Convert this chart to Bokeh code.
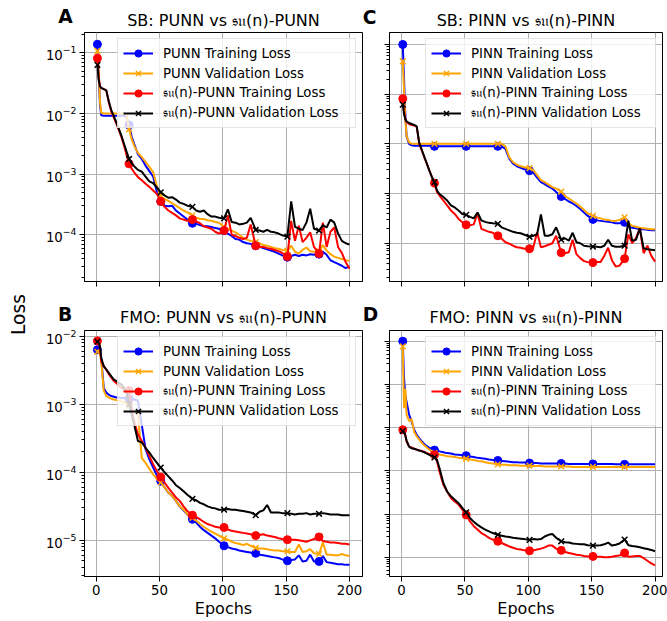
import math
import numpy as np
from bokeh.plotting import figure
from bokeh.models import (Range1d, FixedTicker, Label, Legend, LegendItem,
                          ColumnDataSource, CustomJSTickFormatter)
from bokeh.layouts import row, column
from bokeh.embed import file_html
from bokeh.resources import INLINE

# ---------------------------------------------------------------- data
EPOCHS = [1, 2, 3, 4, 6, 8, 10, 12,
          14, 16, 18, 20, 22, 24, 26, 28,
          30, 33, 36, 39, 42, 45, 48, 51,
          54, 57, 60, 63, 66, 69, 72, 76,
          79, 82, 85, 88, 91, 94, 97, 101,
          104, 107, 110, 113, 116, 119, 122, 126,
          129, 132, 135, 138, 141, 144, 147, 151,
          154, 157, 160, 163, 166, 169, 172, 176,
          179, 182, 185, 188, 191, 194, 197, 200]
MARK_EPOCHS = [1, 26, 51, 76, 101, 126, 151, 176]
X_TICKS = [0, 50, 100, 150, 200]

# losses, given as log10(loss)
SB_PUNN_TRAIN = [-0.86, -1.35, -1.85, -2.03, -2.04, -2.04, -2.04, -2.04,
                 -2.04, -2.04, -2.04, -2.04, -2.04, -2.06, -2.19, -2.38,
                 -2.50, -2.67, -2.75, -2.86, -2.95, -3.04, -3.30, -3.45,
                 -3.52, -3.53, -3.52, -3.60, -3.65, -3.70, -3.75, -3.81,
                 -3.82, -3.84, -3.86, -3.86, -3.87, -3.89, -3.90, -3.93,
                 -3.98, -4.02, -4.07, -4.08, -4.12, -4.14, -4.15, -4.18,
                 -4.20, -4.22, -4.24, -4.26, -4.28, -4.31, -4.34, -4.37,
                 -4.35, -4.33, -4.35, -4.33, -4.34, -4.32, -4.33, -4.32,
                 -4.28, -4.33, -4.42, -4.45, -4.48, -4.51, -4.55, -4.52]
SB_PUNN_VAL = [-0.97, -1.30, -1.80, -1.99, -2.00, -2.00, -2.00, -2.00,
               -2.00, -2.00, -2.00, -2.00, -2.00, -2.02, -2.26, -2.42,
               -2.53, -2.65, -2.72, -2.80, -2.88, -2.97, -3.20, -3.36,
               -3.41, -3.44, -3.48, -3.52, -3.56, -3.60, -3.63, -3.68,
               -3.72, -3.74, -3.74, -3.76, -3.77, -3.79, -3.80, -3.87,
               -3.90, -3.93, -3.96, -4.00, -4.05, -4.08, -4.10, -4.12,
               -4.14, -4.17, -4.18, -4.20, -4.22, -4.23, -4.25, -4.26,
               -4.18, -4.28, -4.31, -4.25, -4.21, -4.27, -4.28, -4.27,
               -4.17, -4.26, -4.32, -4.36, -4.38, -4.40, -4.42, -4.43]
SB_SU_PUNN_TRAIN = [-1.09, -1.40, -1.55, -1.58, -1.60, -1.62, -1.82, -1.97,
                    -2.07, -2.17, -2.28, -2.39, -2.53, -2.69, -2.83, -2.91,
                    -2.97, -3.05, -3.10, -3.16, -3.21, -3.27, -3.33, -3.45,
                    -3.54, -3.60, -3.64, -3.68, -3.73, -3.75, -3.77, -3.75,
                    -3.78, -3.81, -3.86, -3.88, -3.90, -3.95, -3.98, -3.93,
                    -3.68, -4.00, -4.02, -4.05, -4.07, -4.05, -3.83, -4.18,
                    -4.20, -4.20, -4.22, -4.23, -4.25, -4.27, -4.30, -4.36,
                    -3.77, -4.10, -3.85, -4.12, -4.05, -3.96, -4.20, -4.31,
                    -3.80, -4.20, -3.95, -3.88, -4.20, -4.30, -4.45, -4.56]
SB_SU_PUNN_VAL = [-1.20, -1.45, -1.55, -1.58, -1.60, -1.62, -1.80, -1.95,
                  -2.05, -2.15, -2.26, -2.37, -2.50, -2.63, -2.75, -2.82,
                  -2.87, -2.93, -2.96, -3.04, -3.12, -3.15, -3.22, -3.30,
                  -3.35, -3.39, -3.38, -3.42, -3.47, -3.49, -3.52, -3.54,
                  -3.60, -3.62, -3.60, -3.66, -3.70, -3.70, -3.72, -3.73,
                  -3.58, -3.79, -3.80, -3.83, -3.82, -3.80, -3.72, -3.92,
                  -3.93, -3.95, -3.92, -3.95, -3.96, -3.98, -4.01, -4.03,
                  -3.45, -3.87, -3.90, -3.92, -3.80, -3.57, -3.90, -3.93,
                  -3.84, -3.88, -3.75, -3.80, -3.98, -4.10, -4.14, -4.16]

SB_PINN_TRAIN = [0.00, -0.70, -1.40, -1.85, -2.00, -2.03, -2.04, -2.04,
                 -2.04, -2.04, -2.04, -2.04, -2.04, -2.04, -2.05, -2.05,
                 -2.05, -2.05, -2.05, -2.05, -2.05, -2.05, -2.05, -2.05,
                 -2.05, -2.05, -2.05, -2.05, -2.05, -2.05, -2.05, -2.05,
                 -2.05, -2.10, -2.30, -2.40, -2.45, -2.48, -2.51, -2.54,
                 -2.58, -2.68, -2.77, -2.81, -2.86, -2.90, -2.97, -3.06,
                 -3.11, -3.16, -3.20, -3.25, -3.31, -3.38, -3.45, -3.52,
                 -3.54, -3.55, -3.56, -3.57, -3.58, -3.60, -3.60, -3.58,
                 -3.66, -3.69, -3.70, -3.72, -3.72, -3.73, -3.74, -3.74]
SB_PINN_VAL = [-0.34, -0.90, -1.50, -1.85, -1.97, -2.00, -2.00, -2.00,
               -2.00, -2.00, -2.00, -2.00, -2.00, -2.00, -2.00, -2.00,
               -2.00, -2.00, -2.00, -2.00, -2.00, -2.00, -2.00, -2.00,
               -2.00, -2.00, -2.00, -2.00, -2.00, -2.00, -2.00, -2.00,
               -2.00, -2.05, -2.27, -2.37, -2.42, -2.45, -2.47, -2.49,
               -2.53, -2.63, -2.73, -2.77, -2.82, -2.87, -2.90, -2.96,
               -3.05, -3.10, -3.15, -3.20, -3.26, -3.33, -3.40, -3.45,
               -3.48, -3.50, -3.52, -3.53, -3.55, -3.55, -3.53, -3.48,
               -3.60, -3.65, -3.67, -3.69, -3.70, -3.71, -3.72, -3.72]
SB_SU_PINN_TRAIN = [-1.09, -1.33, -1.50, -1.56, -1.60, -1.62, -1.63, -1.66,
                    -2.00, -2.13, -2.27, -2.40, -2.54, -2.67, -2.79, -2.97,
                    -3.04, -3.14, -3.24, -3.34, -3.41, -3.51, -3.58, -3.63,
                    -3.64, -3.62, -3.40, -3.71, -3.74, -3.77, -3.79, -3.85,
                    -3.91, -3.98, -4.01, -4.05, -4.08, -4.09, -4.11, -4.11,
                    -4.08, -3.78, -4.08, -4.06, -4.03, -4.00, -3.85, -4.19,
                    -4.20, -4.18, -3.93, -4.22, -4.30, -4.36, -4.38, -4.39,
                    -4.38, -4.38, -4.25, -4.09, -4.34, -4.47, -4.45, -4.31,
                    -3.82, -4.00, -3.89, -3.70, -4.20, -4.05, -4.25, -4.37]
SB_SU_PINN_VAL = [-1.21, -1.40, -1.50, -1.55, -1.58, -1.60, -1.62, -1.65,
                  -1.98, -2.12, -2.26, -2.40, -2.54, -2.67, -2.77, -2.94,
                  -3.01, -3.07, -3.14, -3.24, -3.28, -3.34, -3.41, -3.43,
                  -3.47, -3.50, -3.38, -3.54, -3.57, -3.59, -3.60, -3.61,
                  -3.68, -3.71, -3.74, -3.77, -3.79, -3.80, -3.83, -3.87,
                  -3.85, -3.82, -3.42, -3.85, -3.85, -3.82, -3.68, -3.93,
                  -3.90, -3.95, -3.79, -3.98, -4.00, -4.05, -4.06, -4.07,
                  -4.07, -4.08, -4.05, -3.93, -4.05, -4.07, -4.07, -4.05,
                  -3.55, -3.95, -3.93, -3.70, -4.10, -4.12, -4.13, -4.14]

FMO_PUNN_TRAIN = [-2.20, -2.18, -2.20, -2.32, -2.76, -2.83, -2.86, -2.88,
                  -2.89, -2.90, -2.90, -2.91, -2.91, -2.92, -2.92, -2.92,
                  -2.93, -2.95, -3.30, -3.66, -3.81, -3.93, -4.05, -4.13,
                  -4.22, -4.30, -4.35, -4.42, -4.50, -4.56, -4.62, -4.69,
                  -4.74, -4.80, -4.85, -4.89, -4.93, -4.97, -5.02, -5.08,
                  -5.10, -5.12, -5.13, -5.15, -5.16, -5.17, -5.18, -5.19,
                  -5.21, -5.22, -5.23, -5.24, -5.25, -5.26, -5.28, -5.30,
                  -5.29, -5.28, -5.22, -5.31, -5.30, -5.21, -5.31, -5.31,
                  -5.23, -5.32, -5.33, -5.34, -5.35, -5.35, -5.36, -5.36]
FMO_PUNN_VAL = [-2.23, -2.20, -2.22, -2.37, -2.80, -2.88, -2.90, -2.92,
                -2.93, -2.94, -2.95, -2.96, -2.97, -2.99, -3.03, -3.08,
                -3.10, -3.13, -3.79, -3.86, -3.95, -4.03, -4.10, -4.15,
                -4.22, -4.30, -4.35, -4.42, -4.50, -4.55, -4.62, -4.67,
                -4.71, -4.76, -4.80, -4.84, -4.87, -4.90, -4.93, -4.97,
                -4.99, -5.02, -5.04, -5.05, -5.07, -5.05, -5.08, -5.11,
                -5.12, -5.12, -5.13, -5.14, -5.15, -5.15, -5.16, -5.16,
                -5.17, -5.17, -5.06, -5.17, -5.16, -5.13, -5.19, -5.20,
                -5.03, -5.21, -5.21, -5.22, -5.22, -5.20, -5.22, -5.23]
FMO_SU_PUNN_TRAIN = [-2.07, -2.10, -2.17, -2.37, -2.44, -2.49, -2.56, -2.61,
                     -2.66, -2.69, -2.73, -2.76, -2.78, -2.80, -2.80, -3.05,
                     -3.25, -3.44, -3.54, -3.64, -3.76, -3.88, -3.98, -4.07,
                     -4.15, -4.23, -4.30, -4.37, -4.42, -4.50, -4.57, -4.63,
                     -4.66, -4.69, -4.73, -4.76, -4.78, -4.80, -4.81, -4.81,
                     -4.84, -4.86, -4.87, -4.88, -4.89, -4.90, -4.91, -4.93,
                     -4.92, -4.91, -4.93, -4.94, -4.95, -4.97, -4.98, -4.99,
                     -4.99, -4.99, -5.00, -5.01, -5.02, -5.00, -4.98, -4.95,
                     -5.01, -5.02, -5.03, -5.03, -5.04, -5.05, -5.05, -5.06]
FMO_SU_PUNN_VAL = [-2.08, -2.10, -2.15, -2.32, -2.44, -2.49, -2.54, -2.59,
                   -2.64, -2.66, -2.69, -2.71, -2.76, -2.83, -3.00, -3.15,
                   -3.30, -3.54, -3.56, -3.64, -3.71, -3.79, -3.86, -3.93,
                   -4.00, -4.06, -4.12, -4.19, -4.23, -4.28, -4.33, -4.39,
                   -4.41, -4.45, -4.47, -4.50, -4.52, -4.53, -4.55, -4.55,
                   -4.54, -4.55, -4.55, -4.56, -4.57, -4.58, -4.59, -4.63,
                   -4.58, -4.56, -4.48, -4.59, -4.59, -4.59, -4.60, -4.60,
                   -4.61, -4.62, -4.61, -4.61, -4.60, -4.62, -4.61, -4.61,
                   -4.60, -4.61, -4.62, -4.62, -4.62, -4.63, -4.63, -4.63]

FMO_PINN_TRAIN = [0.00, -0.86, -1.25, -1.40, -1.70, -1.86, -2.05, -2.17,
                  -2.25, -2.32, -2.38, -2.43, -2.47, -2.50, -2.52, -2.53,
                  -2.55, -2.57, -2.59, -2.60, -2.62, -2.63, -2.64, -2.65,
                  -2.67, -2.68, -2.70, -2.71, -2.72, -2.74, -2.75, -2.76,
                  -2.77, -2.78, -2.79, -2.80, -2.80, -2.81, -2.81, -2.82,
                  -2.82, -2.82, -2.83, -2.83, -2.83, -2.83, -2.83, -2.83,
                  -2.83, -2.84, -2.84, -2.84, -2.84, -2.84, -2.84, -2.84,
                  -2.84, -2.84, -2.84, -2.84, -2.84, -2.85, -2.85, -2.85,
                  -2.85, -2.85, -2.85, -2.85, -2.85, -2.85, -2.85, -2.85]
FMO_PINN_VAL = [-0.12, -1.55, -1.10, -1.70, -1.85, -1.80, -2.10, -2.20,
                -2.28, -2.35, -2.41, -2.46, -2.51, -2.55, -2.59, -2.60,
                -2.62, -2.64, -2.66, -2.67, -2.68, -2.70, -2.71, -2.72,
                -2.74, -2.75, -2.77, -2.78, -2.80, -2.82, -2.83, -2.85,
                -2.86, -2.86, -2.87, -2.87, -2.87, -2.88, -2.88, -2.88,
                -2.89, -2.89, -2.89, -2.90, -2.90, -2.90, -2.90, -2.90,
                -2.90, -2.90, -2.91, -2.91, -2.91, -2.91, -2.91, -2.91,
                -2.91, -2.91, -2.91, -2.91, -2.91, -2.91, -2.91, -2.91,
                -2.91, -2.91, -2.91, -2.91, -2.91, -2.91, -2.91, -2.91]
FMO_SU_PINN_TRAIN = [-2.05, -2.09, -2.17, -2.32, -2.44, -2.46, -2.49, -2.51,
                     -2.53, -2.54, -2.56, -2.59, -2.61, -2.63, -2.63, -2.78,
                     -3.02, -3.32, -3.48, -3.63, -3.71, -3.78, -3.90, -4.02,
                     -4.17, -4.28, -4.36, -4.44, -4.49, -4.55, -4.59, -4.63,
                     -4.67, -4.71, -4.75, -4.78, -4.81, -4.82, -4.84, -4.85,
                     -4.84, -4.82, -4.80, -4.77, -4.73, -4.73, -4.80, -4.84,
                     -4.88, -4.90, -4.92, -4.94, -4.95, -4.97, -4.98, -4.98,
                     -4.99, -4.99, -5.00, -5.00, -4.99, -4.97, -4.96, -4.90,
                     -4.99, -4.98, -4.97, -4.97, -5.02, -5.08, -5.14, -5.19]
FMO_SU_PINN_VAL = [-2.08, -2.12, -2.18, -2.30, -2.44, -2.48, -2.49, -2.51,
                   -2.53, -2.55, -2.57, -2.60, -2.63, -2.66, -2.69, -2.75,
                   -2.94, -3.28, -3.48, -3.59, -3.67, -3.75, -3.86, -3.96,
                   -4.09, -4.18, -4.25, -4.31, -4.36, -4.40, -4.44, -4.48,
                   -4.50, -4.52, -4.53, -4.55, -4.56, -4.57, -4.58, -4.60,
                   -4.58, -4.59, -4.58, -4.52, -4.48, -4.46, -4.55, -4.63,
                   -4.65, -4.66, -4.68, -4.69, -4.70, -4.70, -4.72, -4.73,
                   -4.73, -4.72, -4.70, -4.66, -4.73, -4.71, -4.68, -4.59,
                   -4.72, -4.74, -4.75, -4.77, -4.79, -4.81, -4.83, -4.86]

SERIES_COLORS = ["blue", "orange", "red", "black"]
SERIES_MARKERS = ["circle", "x", "circle", "x"]

PANELS = {
    "A": dict(title="SB: PUNN vs 𝔰𝔲(n)-PUNN", model="PUNN",
              data=[SB_PUNN_TRAIN, SB_PUNN_VAL, SB_SU_PUNN_TRAIN, SB_SU_PUNN_VAL],
              ylim=(-4.77, -0.666)),
    "C": dict(title="SB: PINN vs 𝔰𝔲(n)-PINN", model="PINN",
              data=[SB_PINN_TRAIN, SB_PINN_VAL, SB_SU_PINN_TRAIN, SB_SU_PINN_VAL],
              ylim=(-4.77, 0.241)),
    "B": dict(title="FMO: PUNN vs 𝔰𝔲(n)-PUNN", model="PUNN",
              data=[FMO_PUNN_TRAIN, FMO_PUNN_VAL, FMO_SU_PUNN_TRAIN, FMO_SU_PUNN_VAL],
              ylim=(-5.531, -1.917)),
    "D": dict(title="FMO: PINN vs 𝔰𝔲(n)-PINN", model="PINN",
              data=[FMO_PINN_TRAIN, FMO_PINN_VAL, FMO_SU_PINN_TRAIN, FMO_SU_PINN_VAL],
              ylim=(-5.445, 0.247)),
}

# ---------------------------------------------------------------- layout
FONT = "DejaVu Sans"
LOSS_W = 28
COLS = {"left": dict(w=344, bl=56, br=10, xr=(-9.2, 210.3), lw=187),
        "right": dict(w=295, bl=17, br=5, xr=(-9.47, 205.9), lw=179)}
# each row = header strip (titles + panel letters) + plotting figures
ROWS = {"top": dict(head=31, h=271, bt=1, bb=21, y0=0),
        "bottom": dict(head=27, h=291, bt=1, bb=43, y0=302)}
# page positions (x centre, y middle) of titles and panel letters
TITLE_POS = {"A": (223, 20), "C": (525.5, 20), "B": (223, 317), "D": (525.5, 317)}
LETTER_POS = {"A": (65, 16.3), "C": (369, 16.7), "B": (64.5, 313.5), "D": (370, 313.5)}
HIDDEN = CustomJSTickFormatter(code="return ''")
HEAD_W = COLS["left"]["w"] + COLS["right"]["w"]


def make_panel(key, col, rw):
    cfg = PANELS[key]
    c, r = COLS[col], ROWS[rw]
    lo, hi = cfg["ylim"]
    x_lo, x_hi = c["xr"]
    p = figure(width=c["w"], height=r["h"], y_axis_type="log",
               x_range=Range1d(x_lo, x_hi), y_range=Range1d(10 ** lo, 10 ** hi),
               output_backend="svg", toolbar_location=None, title=None,
               min_border_left=c["bl"], min_border_right=c["br"],
               min_border_top=r["bt"], min_border_bottom=r["bb"])

    decades = list(range(math.ceil(lo), math.floor(hi) + 1))
    minors = [m * 10.0 ** k for k in range(math.floor(lo), math.ceil(hi) + 1)
              for m in range(2, 10) if lo <= math.log10(m * 10.0 ** k) <= hi]
    p.xaxis.ticker = FixedTicker(ticks=X_TICKS)
    p.yaxis.ticker = FixedTicker(ticks=[10.0 ** k for k in decades], minor_ticks=minors)
    p.xgrid.ticker = p.xaxis[0].ticker
    p.ygrid.ticker = p.yaxis[0].ticker
    p.grid.grid_line_color = "#b0b0b0"
    p.grid.grid_line_width = 1

    for ax in (p.xaxis[0], p.yaxis[0]):
        ax.axis_line_color = "black"
        ax.major_tick_line_color = "black"
        ax.minor_tick_line_color = "black"
        ax.major_tick_out = 5
        ax.major_tick_in = 0
        ax.minor_tick_out = 3
        ax.minor_tick_in = 0
        ax.major_label_text_font = FONT
        ax.major_label_text_font_size = "13.3px"
        ax.major_label_text_color = "black"
        ax.major_label_standoff = 3
    p.outline_line_color = "black"
    p.outline_line_alpha = 1
    p.outline_line_width = 1

    if rw == "top":
        p.xaxis.formatter = HIDDEN
        p.xaxis.major_label_standoff = 0
    else:
        p.xaxis.axis_label = "Epochs"
        p.xaxis.axis_label_text_font = FONT
        p.xaxis.axis_label_text_font_size = "16px"
        p.xaxis.axis_label_text_font_style = "normal"
        p.xaxis.axis_label_text_color = "black"
        p.xaxis.axis_label_standoff = 1
        p.xaxis.major_label_standoff = 3
    if col == "right":
        p.yaxis.formatter = HIDDEN

    m = cfg["model"]
    labels = [f"{m} Training Loss", f"{m} Validation Loss",
              f"𝔰𝔲(n)-{m} Training Loss", f"𝔰𝔲(n)-{m} Validation Loss"]
    items = []
    for vals, color, marker, label in zip(cfg["data"], SERIES_COLORS,
                                          SERIES_MARKERS, labels):
        y = 10.0 ** np.array(vals)
        src = ColumnDataSource(dict(x=EPOCHS, y=y))
        ln = p.line("x", "y", source=src, line_color=color, line_width=2)
        keep = [i for i, e in enumerate(EPOCHS) if e in MARK_EPOCHS]
        msrc = ColumnDataSource(dict(x=[EPOCHS[i] for i in keep], y=y[keep]))
        if marker == "circle":
            sc = p.scatter("x", "y", source=msrc, marker="circle", size=8,
                           fill_color=color, line_color=color)
        else:
            sc = p.scatter("x", "y", source=msrc, marker="x", size=8,
                           line_color=color, line_width=1.5)
        items.append(LegendItem(label=label, renderers=[ln, sc]))

    leg = Legend(items=items, location="top_right", margin=6, padding=5,
                 spacing=2, label_height=18, glyph_height=18, glyph_width=30,
                 label_standoff=10, label_width=c["lw"], label_text_font=FONT,
                 label_text_font_size="13.3px", label_text_color="black",
                 border_line_color="#cccccc", border_line_width=1,
                 background_fill_color="white", background_fill_alpha=0.8)
    p.add_layout(leg)
    return p


def make_header(rw, keys):
    r = ROWS[rw]
    hh = r["head"]
    h = figure(width=HEAD_W, height=hh, x_range=Range1d(0, HEAD_W),
               y_range=Range1d(0, hh), x_axis_type=None, y_axis_type=None,
               output_backend="svg", toolbar_location=None, title=None,
               min_border=0)
    h.outline_line_color = None
    for k in keys:
        tx, ty = TITLE_POS[k]
        h.add_layout(Label(x=tx - LOSS_W, y=hh - (ty - r["y0"]), text=PANELS[k]["title"],
                           text_font=FONT, text_font_size="16px", text_color="black",
                           text_align="center", text_baseline="middle"))
        lx, ly = LETTER_POS[k]
        h.add_layout(Label(x=lx - LOSS_W, y=hh - (ly - r["y0"]), text=k,
                           text_font=FONT, text_font_style="bold",
                           text_font_size="18.7px", text_color="black",
                           text_align="center", text_baseline="middle"))
    return h


pA = make_panel("A", "left", "top")
pC = make_panel("C", "right", "top")
pB = make_panel("B", "left", "bottom")
pD = make_panel("D", "right", "bottom")
hTop = make_header("top", ["A", "C"])
hBot = make_header("bottom", ["B", "D"])

total_h = sum(r["head"] + r["h"] for r in ROWS.values())
lf = figure(width=LOSS_W, height=total_h, x_range=Range1d(0, LOSS_W),
            y_range=Range1d(0, total_h), x_axis_type=None, y_axis_type=None,
            output_backend="svg", toolbar_location=None, title=None, min_border=0)
lf.outline_line_color = None
lf.add_layout(Label(x=17.5, y=total_h - 314, text="Loss", angle=math.pi / 2,
                    text_font=FONT, text_font_size="18.7px", text_color="black",
                    text_align="center", text_baseline="middle"))

layout = row(lf, column(hTop, row(pA, pC), hBot, row(pB, pD)))
open("out.html", "w").write(file_html(layout, INLINE))
